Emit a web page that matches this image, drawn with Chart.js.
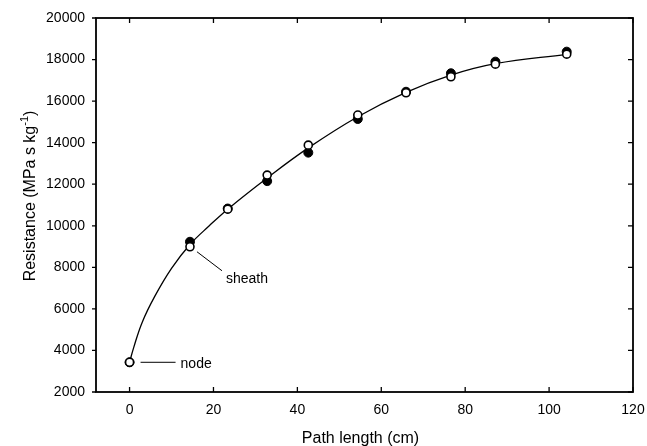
<!DOCTYPE html>
<html>
<head>
<meta charset="utf-8">
<script src="https://cdn.jsdelivr.net/npm/chart.js@4/dist/chart.umd.min.js"></script>
<style>
  html, body { margin: 0; padding: 0; background: #fff; }
  #wrap { width: 647px; height: 446px; }
</style>
</head>
<body>
<div id="wrap"><canvas id="resistChart" width="647" height="446"></canvas></div>
<script>
// path length (cm) of each measured segment
const pathLength = [0, 14.4, 23.4, 32.8, 42.6, 54.4, 65.9, 76.6, 87.2, 104.2];
// filled symbols
const filledRes = [3430, 9230, 10830, 12150, 13520, 15140, 16450, 17340, 17900, 18380];
// open symbols
const openRes = [3430, 8990, 10800, 12440, 13880, 15330, 16400, 17170, 17780, 18260];

// fitted curve
const curveX = [0, 1, 3, 6, 10, 14.4, 19, 23.4, 32.8, 42.6, 54.4, 65.9, 76.6, 87.2, 104.2];
const curveY = [3430, 4150, 5350, 6600, 7950, 9100, 10000, 10800, 12300, 13750, 15250, 16420, 17250, 17800, 18250];

const xTicks = [0, 20, 40, 60, 80, 100, 120];
const yTicks = [2000, 4000, 6000, 8000, 10000, 12000, 14000, 16000, 18000, 20000];

const xTitle = 'Path length (cm)';
const yTitle = 'Resistance (MPa s kg';
const yTitleSup = '-1';

const fontFam = "'Liberation Sans', Arial, Helvetica, sans-serif";

const toPts = (xs, ys) => xs.map((x, i) => ({ x: x, y: ys[i] }));

// box, tick marks, axis titles and the two labels
const frame = {
  id: 'frame',
  afterDatasetsDraw(chart) {
    const { ctx, chartArea: a, scales: { x, y } } = chart;
    ctx.save();
    ctx.strokeStyle = '#000';
    ctx.lineWidth = 1.8;
    ctx.strokeRect(a.left, a.top, a.right - a.left, a.bottom - a.top);

    ctx.lineWidth = 1.3;
    ctx.beginPath();
    xTicks.forEach(v => {
      const px = x.getPixelForValue(v);
      ctx.moveTo(px, a.bottom); ctx.lineTo(px, a.bottom - 5);
      ctx.moveTo(px, a.top); ctx.lineTo(px, a.top + 5);
    });
    yTicks.forEach(v => {
      const py = y.getPixelForValue(v);
      ctx.moveTo(a.left, py); ctx.lineTo(a.left - 4, py);
      ctx.moveTo(a.right, py); ctx.lineTo(a.right - 5, py);
    });
    ctx.stroke();

    ctx.fillStyle = '#000';

    // axis titles
    ctx.font = '16px ' + fontFam;
    ctx.textBaseline = 'alphabetic';
    ctx.textAlign = 'center';
    ctx.fillText(xTitle, (a.left + a.right) / 2 - 4, 443);

    ctx.save();
    ctx.translate(35, (a.top + a.bottom) / 2 - 9);
    ctx.rotate(-Math.PI / 2);
    const mainW = ctx.measureText(yTitle).width;
    ctx.font = '11px ' + fontFam;
    const supW = ctx.measureText(yTitleSup).width;
    ctx.font = '16px ' + fontFam;
    const closeW = ctx.measureText(')').width;
    const total = mainW + supW + closeW;
    ctx.textAlign = 'left';
    let cx = -total / 2;
    ctx.fillText(yTitle, cx, 0);
    cx += mainW;
    ctx.font = '11px ' + fontFam;
    ctx.fillText(yTitleSup, cx, -7);
    cx += supW;
    ctx.font = '16px ' + fontFam;
    ctx.fillText(')', cx, 0);
    ctx.restore();

    // annotations
    ctx.font = '14px ' + fontFam;
    ctx.textAlign = 'left';
    ctx.textBaseline = 'middle';
    ctx.lineWidth = 1;

    const nx = x.getPixelForValue(pathLength[0]);
    const ny = y.getPixelForValue(openRes[0]);
    ctx.beginPath();
    ctx.moveTo(nx + 11, ny); ctx.lineTo(nx + 46, ny);
    ctx.stroke();
    ctx.fillText('node', nx + 51, ny + 2);

    const sx = x.getPixelForValue(pathLength[1]);
    const sy = y.getPixelForValue(openRes[1]);
    ctx.beginPath();
    ctx.moveTo(sx + 7, sy + 5); ctx.lineTo(sx + 32, sy + 24);
    ctx.stroke();
    ctx.fillText('sheath', sx + 36, sy + 32);
    ctx.restore();
  }
};

const ctx = document.getElementById('resistChart').getContext('2d');
new Chart(ctx, {
  type: 'scatter',
  data: {
    datasets: [
      {
        label: 'fit',
        data: toPts(curveX, curveY),
        showLine: true,
        tension: 0.4,
        borderColor: '#000',
        borderWidth: 1.3,
        pointRadius: 0,
        order: 3
      },
      {
        label: 'filled',
        data: toPts(pathLength, filledRes),
        backgroundColor: '#000',
        borderColor: '#000',
        borderWidth: 1,
        pointRadius: 4.5,
        order: 2
      },
      {
        label: 'open',
        data: toPts(pathLength, openRes),
        backgroundColor: '#fff',
        borderColor: '#000',
        borderWidth: 1.6,
        pointRadius: 4,
        order: 1
      }
    ]
  },
  options: {
    responsive: false,
    animation: false,
    layout: { padding: { top: 18, right: 14, left: 0, bottom: 0 } },
    plugins: {
      legend: { display: false },
      tooltip: { enabled: false }
    },
    scales: {
      x: {
        type: 'linear',
        min: -8,
        max: 120,
        afterBuildTicks: s => { s.ticks = xTicks.map(v => ({ value: v })); },
        afterFit: s => { s.height = 54; s.paddingLeft = 0; s.paddingRight = 0; },
        grid: { display: false, drawTicks: false },
        border: { display: false },
        ticks: { padding: 10, color: '#000', font: { size: 14, family: fontFam } }
      },
      y: {
        type: 'linear',
        min: 2000,
        max: 20000,
        afterBuildTicks: s => { s.ticks = yTicks.map(v => ({ value: v })); },
        afterFit: s => { s.width = 96; s.paddingTop = 0; s.paddingBottom = 0; },
        grid: { display: false, drawTicks: false },
        border: { display: false },
        ticks: { padding: 11, color: '#000', font: { size: 14, family: fontFam }, callback: v => String(v) }
      }
    }
  },
  plugins: [frame]
});
</script>
</body>
</html>
